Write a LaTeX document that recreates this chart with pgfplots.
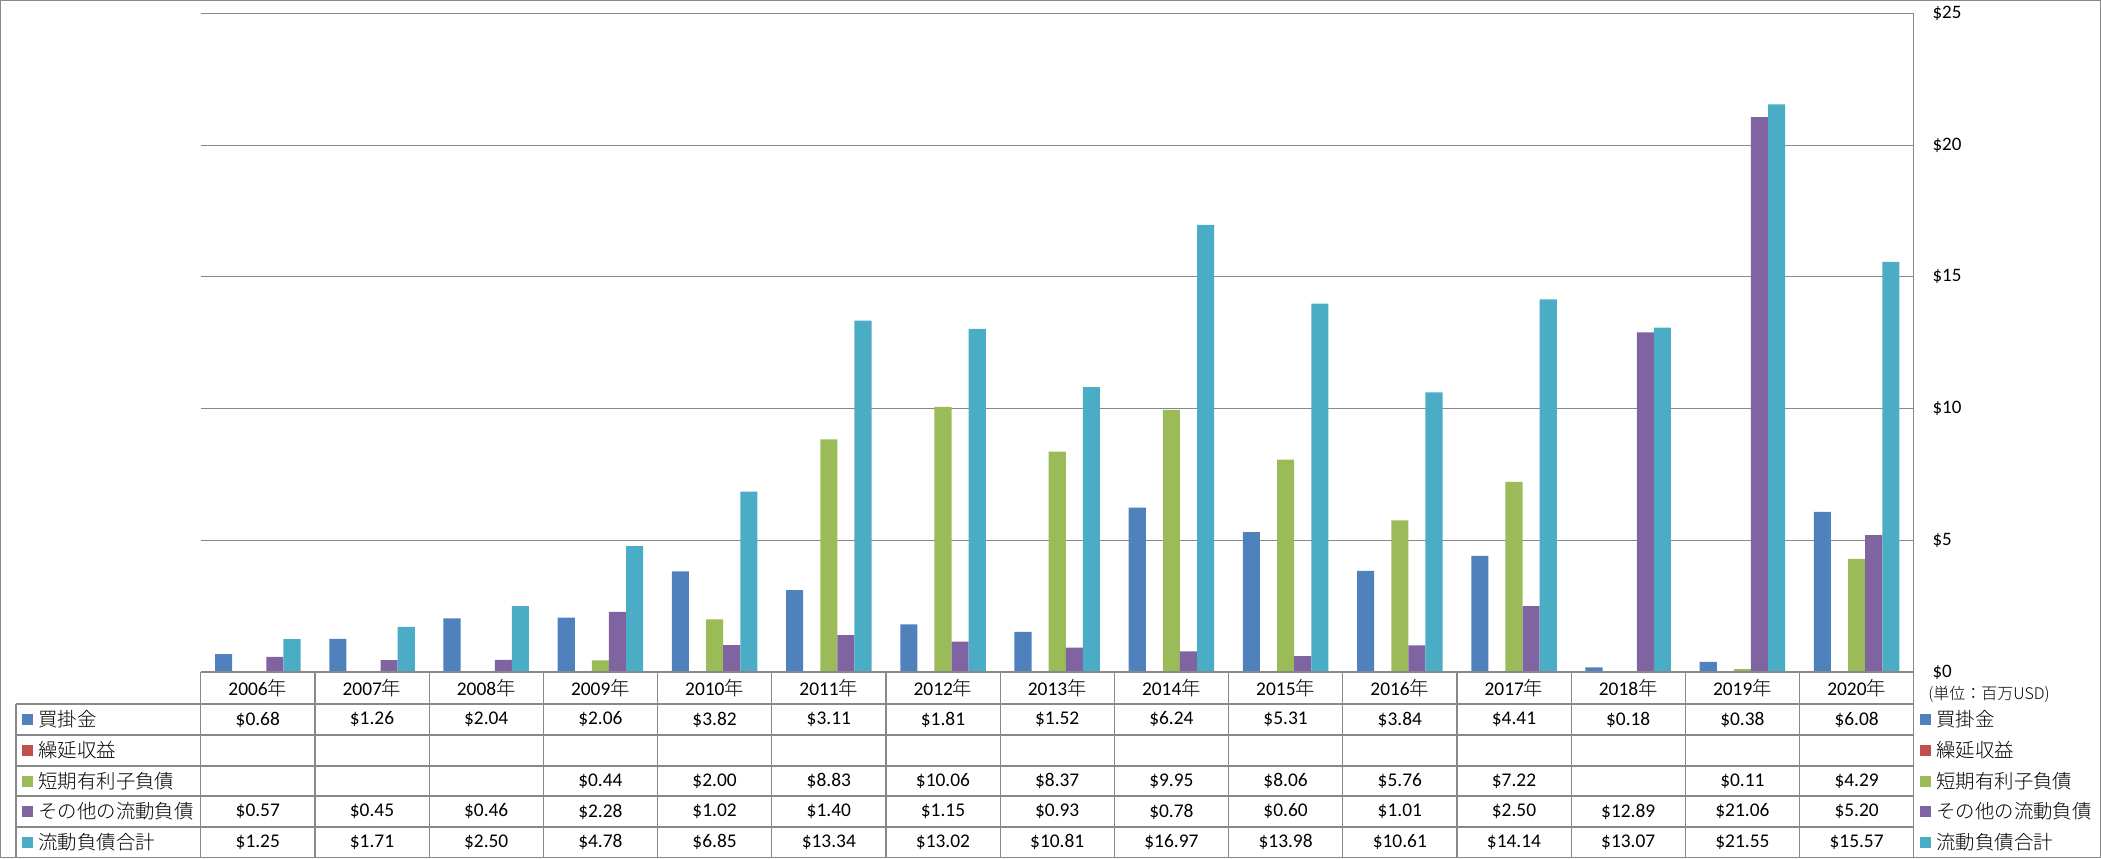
\documentclass[border=0pt]{standalone}
\usepackage{pgfplots}
\pgfplotsset{compat=1.18}
\usepackage{pgfplotstable}
\usepackage{fontspec}
\setmainfont{Carlito}
\IfFontExistsTF{Noto Sans CJK JP Light}{\newfontfamily\cjk{Noto Sans CJK JP Light}}{\newfontfamily\cjk{Noto Sans CJK JP}}
\definecolor{cA}{HTML}{4F81BD}
\definecolor{cB}{HTML}{C0504D}
\definecolor{cC}{HTML}{9BBB59}
\definecolor{cD}{HTML}{8064A2}
\definecolor{cE}{HTML}{4BACC6}
\definecolor{lg}{HTML}{888888}
\newcommand\tf{\fontsize{9.7pt}{11pt}\selectfont}
\def\nanstr{nan}

\pgfplotstableread{
x year ap dr std oth tot
0 2006 0.68 nan nan 0.57 1.25
1 2007 1.26 nan nan 0.45 1.71
2 2008 2.04 nan nan 0.46 2.50
3 2009 2.06 nan 0.44 2.28 4.78
4 2010 3.82 nan 2.00 1.02 6.85
5 2011 3.11 nan 8.83 1.40 13.34
6 2012 1.81 nan 10.06 1.15 13.02
7 2013 1.52 nan 8.37 0.93 10.81
8 2014 6.24 nan 9.95 0.78 16.97
9 2015 5.31 nan 8.06 0.60 13.98
10 2016 3.84 nan 5.76 1.01 10.61
11 2017 4.41 nan 7.22 2.50 14.14
12 2018 0.18 nan nan 12.89 13.07
13 2019 0.38 nan 0.11 21.06 21.55
14 2020 6.08 nan 4.29 5.20 15.57
}\data

\begin{document}
\begin{tikzpicture}
\path[use as bounding box] (0,0) rectangle (1050.5pt,429pt);
\begin{axis}[
  at={(100.35pt,93pt)}, anchor=south west,
  scale only axis, width=856.5pt, height=329.3pt,
  xmin=-0.5, xmax=14.5, ymin=0, ymax=25,
  axis x line=none, axis y line*=right,
  axis line style={-, draw=lg, line width=0.6pt},
  ytick={0,5,...,25}, major tick length=0pt,
  yticklabel={\$\pgfmathprintnumber[assume math mode=true]{\tick}},
  yticklabel style={anchor=west, inner sep=0pt, xshift=9.2pt, font=\fontsize{9.5pt}{11pt}\selectfont},
  ymajorgrids, grid style={draw=lg, line width=0.5pt},
  xtick=\empty,
]
\addplot[ybar, bar width=8.55pt, bar shift=-17.1pt, fill=cA, draw=none] table[x=x,y=ap]{\data};
\addplot[ybar, bar width=8.55pt, bar shift=0pt, fill=cC, draw=none] table[x=x,y=std]{\data};
\addplot[ybar, bar width=8.55pt, bar shift=8.55pt, fill=cD, draw=none] table[x=x,y=oth]{\data};
\addplot[ybar, bar width=8.55pt, bar shift=17.1pt, fill=cE, draw=none] table[x=x,y=tot]{\data};
\end{axis}
\begin{scope}[x=0.5pt, y=-0.5pt, yshift=429pt]
  \draw[lg, line width=0.7pt] (0.6,0.6) rectangle (2100.4,857.4);
  \foreach \k in {0,...,15} \draw[lg, line width=0.6pt] ({200.7+\k*114.2},672) -- ({200.7+\k*114.2},857);
  \foreach \yy in {704,735,766,796,827} \draw[lg, line width=0.6pt] (16,\yy) -- (1913.7,\yy);
  \draw[lg, line width=0.6pt] (16,704) -- (16,857);
  \draw[lg, line width=0.6pt] (200.7,672) -- (1913.7,672);
  \foreach \yy/\c/\t in {719.5/cA/買掛金, 750.5/cB/繰延収益, 781/cC/短期有利子負債, 811.5/cD/その他の流動負債, 842/cE/流動負債合計}{
    \fill[\c] (22,{\yy-5.5}) rectangle (33,{\yy+5.5});
    \node[anchor=west, inner sep=0pt, font=\tf\cjk] at (38,\yy) {\t};
    \fill[\c] (1920,{\yy-5.5}) rectangle (1931,{\yy+5.5});
    \node[anchor=west, inner sep=0pt, font=\tf\cjk] at (1936,\yy) {\t};
  }
  \node[anchor=west, inner sep=0pt, font=\fontsize{8pt}{9pt}\selectfont\cjk] at (1928,694) {(単位：百万USD)};
  \foreach \i in {0,...,14}{
    \pgfmathsetmacro\cx{200.7+(\i+0.5)*114.2}
    \pgfplotstablegetelem{\i}{year}\of\data
    \edef\yr{\pgfplotsretval}
    \node[font=\tf, inner sep=0pt] at (\cx,688) {\yr{\cjk 年}};
    \foreach \col/\yy in {ap/719.5, dr/750.5, std/781, oth/811.5, tot/842}{
      \pgfplotstablegetelem{\i}{\col}\of\data
      \edef\cellv{\pgfplotsretval}
      \ifx\cellv\nanstr\else
        \node[font=\tf, inner sep=0pt] at (\cx,\yy) {\$\pgfmathprintnumber[fixed, fixed zerofill, precision=2, assume math mode=true]{\cellv}};
      \fi
    }
  }
\end{scope}
\end{tikzpicture}
\end{document}
